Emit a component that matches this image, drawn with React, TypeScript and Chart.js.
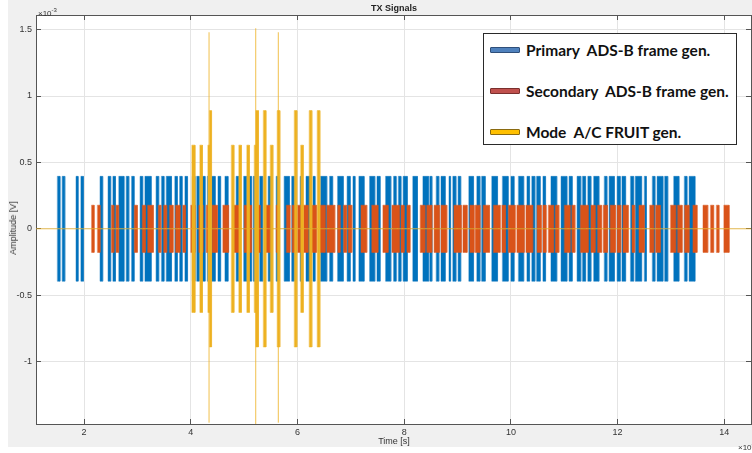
import React, { useEffect, useRef } from 'react';
import { Chart, registerables } from 'chart.js';

Chart.register(...registerables);

// Axis ranges (x in ×10^-4 s, y in ×10^-3 V)
const X_MIN = 1.1;
const X_MAX = 14.5;
const Y_MIN = -1.47;
const Y_MAX = 1.61;
const X_STEP = 2;
const Y_STEP = 0.5;

// Pulse envelopes [start, end] in ×10^-4 s
const bluePulses: number[][] = [
  [1.50, 1.55], [1.59, 1.64], [1.85, 1.89], [1.94, 1.99], [2.30, 2.35], [2.45, 2.50], [2.54, 2.59],
  [2.65, 2.75], [2.79, 2.84], [2.89, 2.94], [3.05, 3.10], [3.14, 3.26], [3.35, 3.40], [3.45, 3.50],
  [3.54, 3.64], [3.70, 3.75], [3.79, 3.84], [3.89, 3.94], [4.03, 4.08], [4.11, 4.16], [4.21, 4.27],
  [4.31, 4.35], [4.39, 4.46], [4.51, 4.56], [4.64, 4.70], [4.85, 4.90], [4.99, 5.05], [5.09, 5.14],
  [5.17, 5.20], [5.29, 5.35], [5.45, 5.50], [5.60, 5.65], [5.75, 5.85], [5.89, 5.94], [6.05, 6.09],
  [6.16, 6.25], [6.29, 6.33], [6.43, 6.55], [6.60, 6.66], [6.75, 6.86], [6.93, 6.99], [7.04, 7.08],
  [7.15, 7.25], [7.35, 7.45], [7.49, 7.55], [7.65, 7.75], [7.80, 7.85], [7.89, 7.94], [7.98, 8.06],
  [8.16, 8.25], [8.35, 8.46], [8.48, 8.52], [8.60, 8.65], [8.69, 8.77], [8.84, 8.87], [8.91, 8.97],
  [9.01, 9.06], [9.21, 9.30], [9.36, 9.42], [9.45, 9.52], [9.64, 9.75], [9.84, 9.95], [10.00, 10.06],
  [10.14, 10.24], [10.30, 10.35], [10.39, 10.45], [10.48, 10.55], [10.60, 10.65], [10.75, 10.86],
  [10.94, 11.05], [11.09, 11.15], [11.24, 11.31], [11.34, 11.40], [11.44, 11.50], [11.55, 11.65],
  [11.75, 11.80], [11.84, 11.94], [11.99, 12.05], [12.08, 12.15], [12.24, 12.30], [12.33, 12.45],
  [12.50, 12.54], [12.65, 12.70], [12.74, 12.85], [12.88, 12.94], [13.05, 13.15], [13.25, 13.30],
  [13.34, 13.45],
];

const orangePulses: number[][] = [
  [2.14, 2.19], [2.25, 2.30], [2.51, 2.56], [2.60, 2.65], [2.94, 3.00], [3.09, 3.15], [3.19, 3.30],
  [3.39, 3.44], [3.49, 3.55], [3.60, 3.67], [3.71, 3.80], [3.85, 3.90], [4.00, 4.08], [4.15, 4.23],
  [4.29, 4.37], [4.40, 4.50], [4.60, 4.71], [4.80, 4.92], [5.00, 5.14], [5.22, 5.30], [5.41, 5.49],
  [5.60, 5.65], [5.79, 5.86], [5.90, 5.98], [6.00, 6.06], [6.11, 6.20], [6.27, 6.36], [6.42, 6.52],
  [6.55, 6.70], [6.75, 6.80], [6.86, 6.92], [6.95, 7.02], [7.19, 7.30], [7.39, 7.51], [7.60, 7.70],
  [7.77, 7.91], [7.94, 8.00], [8.05, 8.11], [8.30, 8.39], [8.42, 8.52], [8.56, 8.66], [8.69, 8.80],
  [8.93, 9.07], [9.10, 9.18], [9.23, 9.31], [9.33, 9.42], [9.48, 9.60], [9.67, 9.80], [9.83, 9.90],
  [9.95, 10.08], [10.11, 10.25], [10.28, 10.41], [10.49, 10.57], [10.60, 10.66], [10.70, 10.80],
  [10.83, 10.90], [11.00, 11.11], [11.14, 11.20], [11.30, 11.45], [11.50, 11.58], [11.62, 11.70],
  [11.73, 11.81], [11.86, 11.96], [11.99, 12.06], [12.10, 12.20], [12.27, 12.32], [12.40, 12.50],
  [12.60, 12.68], [12.71, 12.80], [12.99, 13.09], [13.12, 13.21], [13.25, 13.34], [13.41, 13.49],
  [13.60, 13.69], [13.74, 13.80], [13.85, 13.90], [13.99, 14.09],
];

const yellowMedPulses: number[][] = [
  [4.02, 4.08], [4.17, 4.22], [4.32, 4.36], [4.76, 4.81], [4.90, 4.95], [5.05, 5.10], [5.19, 5.25],
  [5.49, 5.54], [6.06, 6.11],
];
const yellowTallPulses: number[][] = [
  [4.35, 4.39], [5.22, 5.27], [5.36, 5.41], [5.62, 5.67], [5.94, 5.99], [6.22, 6.27], [6.37, 6.42],
];
const yellowSpikeTimes = [4.343, 5.218, 5.641];
const yellowSpikeTop = [1.48, 1.51, 1.48];
const yellowSpikeBottom = [-1.46, -1.48, -1.46];

// Pulse amplitudes (×10^-3 V)
const BLUE_AMP = 0.395;
const ORANGE_AMP = 0.178;
const YELLOW_MED_AMP = 0.63;
const YELLOW_TALL_AMP = 0.89;

const BLUE = '#0072BD';
const ORANGE = '#D95319';
const YELLOW = '#EDB120';

const legendItems = [
  { label: 'Primary  ADS-B frame gen.', fill: '#4f81bd', stroke: '#2f4f7a' },
  { label: 'Secondary  ADS-B frame gen.', fill: '#c0504d', stroke: '#7a2f2d' },
  { label: 'Mode  A/C FRUIT gen.', fill: '#ffc000', stroke: '#8a6a10' },
];

function trace(pulses: number[][], amp: number) {
  const pts: any[] = [];
  for (const [s, e] of pulses) {
    pts.push({ x: s, y: amp }, { x: e, y: amp }, { x: e, y: null });
  }
  return pts;
}

function outline(pulses: number[][], amp: number) {
  const pts: any[] = [];
  for (const [s, e] of pulses) {
    pts.push({ x: s, y: -amp }, { x: s, y: amp }, { x: e, y: amp }, { x: e, y: -amp }, { x: s, y: -amp }, { x: e, y: null });
  }
  return pts;
}

function spikeTrace() {
  const pts: any[] = [];
  yellowSpikeTimes.forEach((t, i) => {
    pts.push({ x: t, y: yellowSpikeBottom[i] }, { x: t, y: yellowSpikeTop[i] }, { x: t, y: null });
  });
  return pts;
}

function fillDs(pulses: number[][], amp: number, color: string, order: number) {
  return {
    type: 'line',
    data: trace(pulses, amp),
    borderWidth: 0,
    borderColor: 'rgba(0,0,0,0)',
    backgroundColor: color,
    fill: 'origin',
    pointRadius: 0,
    spanGaps: false,
    tension: 0,
    order,
  };
}

function edgeDs(pulses: number[][], amp: number, color: string, order: number) {
  return {
    type: 'line',
    data: outline(pulses, amp),
    borderWidth: 1,
    borderColor: color,
    fill: false,
    pointRadius: 0,
    spanGaps: false,
    tension: 0,
    order,
  };
}

const FONT = '"Liberation Sans", Arial, sans-serif';

export default function App() {
  const ref = useRef<HTMLCanvasElement>(null);

  useEffect(() => {
    const canvas = ref.current!;
    const datasets: any[] = [
      edgeDs(bluePulses, BLUE_AMP, 'rgba(0,114,189,0.45)', 6),
      fillDs(bluePulses, BLUE_AMP, BLUE, 5),
      fillDs(bluePulses, -BLUE_AMP, BLUE, 5),
      edgeDs(orangePulses, ORANGE_AMP, 'rgba(217,83,25,0.45)', 4.5),
      fillDs(orangePulses, ORANGE_AMP, ORANGE, 4),
      fillDs(orangePulses, -ORANGE_AMP, ORANGE, 4),
      {
        type: 'line',
        data: [{ x: X_MIN, y: 0 }, { x: X_MAX, y: 0 }],
        borderWidth: 1,
        borderColor: 'rgba(237,177,32,0.75)',
        pointRadius: 0,
        fill: false,
        order: 3,
      },
      edgeDs(yellowMedPulses, YELLOW_MED_AMP, 'rgba(237,177,32,0.5)', 2.5),
      fillDs(yellowMedPulses, YELLOW_MED_AMP, YELLOW, 2),
      fillDs(yellowMedPulses, -YELLOW_MED_AMP, YELLOW, 2),
      edgeDs(yellowTallPulses, YELLOW_TALL_AMP, 'rgba(237,177,32,0.5)', 1.5),
      fillDs(yellowTallPulses, YELLOW_TALL_AMP, YELLOW, 1),
      fillDs(yellowTallPulses, -YELLOW_TALL_AMP, YELLOW, 1),
      {
        type: 'line',
        data: spikeTrace(),
        borderWidth: 1,
        borderColor: 'rgba(237,177,32,0.8)',
        pointRadius: 0,
        fill: false,
        spanGaps: false,
        order: 0,
      },
    ];

    const tickFont = { family: FONT, size: 9 };
    const gridColor = '#e4e4e4';
    const tickColor = '#555';
    const borderCfg = { display: true, color: '#555', width: 1 };

    const chart = new Chart(canvas, {
      type: 'line',
      data: { datasets },
      options: {
        animation: false,
        responsive: false,
        maintainAspectRatio: false,
        events: [],
        layout: { padding: { top: 15, right: 1, left: 0, bottom: 0 } },
        plugins: { legend: { display: false }, tooltip: { enabled: false }, title: { display: false } },
        scales: {
          x: {
            type: 'linear',
            position: 'bottom',
            min: X_MIN,
            max: X_MAX,
            afterFit: (s: any) => { s.height = 29; },
            grid: { color: gridColor, tickLength: -5, tickColor, drawTicks: true },
            border: borderCfg,
            ticks: {
              stepSize: X_STEP,
              includeBounds: false,
              font: tickFont,
              color: '#333',
              padding: 8,
              maxRotation: 0,
              callback: (v: any) => String(v),
            },
          },
          x2: {
            type: 'linear',
            position: 'top',
            min: X_MIN,
            max: X_MAX,
            afterFit: (s: any) => { s.height = 0; },
            grid: { drawOnChartArea: false, tickLength: -5, tickColor },
            border: borderCfg,
            ticks: { stepSize: X_STEP, includeBounds: false, display: false },
          },
          y: {
            type: 'linear',
            position: 'left',
            min: Y_MIN,
            max: Y_MAX,
            afterFit: (s: any) => { s.width = 36; },
            grid: { color: gridColor, tickLength: -5, tickColor },
            border: borderCfg,
            ticks: {
              stepSize: Y_STEP,
              includeBounds: false,
              font: tickFont,
              color: '#333',
              padding: 9,
              callback: (v: any) => String(Math.round(v * 10) / 10),
            },
          },
          y2: {
            type: 'linear',
            position: 'right',
            min: Y_MIN,
            max: Y_MAX,
            afterFit: (s: any) => { s.width = 0; },
            grid: { drawOnChartArea: false, tickLength: -5, tickColor },
            border: borderCfg,
            ticks: { stepSize: Y_STEP, includeBounds: false, display: false },
          },
        },
      } as any,
    });
    return () => chart.destroy();
  }, []);

  const txt: React.CSSProperties = {
    position: 'absolute',
    fontFamily: FONT,
    fontSize: 9,
    color: '#333',
    whiteSpace: 'nowrap',
    lineHeight: '10px',
  };

  return (
    <div style={{ position: 'fixed', left: 0, top: 0, width: 752, height: 453, background: '#fff', overflow: 'hidden' }}>
      <div style={{ position: 'absolute', left: 8, top: 0, width: 744, height: 447, background: '#f0f0f0' }} />
      <div style={{ position: 'absolute', left: 36, top: 15, width: 715, height: 409, background: '#fff' }} />
      <canvas ref={ref} width={752} height={453} style={{ position: 'absolute', left: 0, top: 0 }} />
      <div style={{ ...txt, left: 394, top: 3, transform: 'translateX(-50%)', fontWeight: 'bold', color: '#222' }}>TX Signals</div>
      <div style={{ ...txt, left: 38, top: 5, fontSize: 8 }}>
        ×10<sup style={{ fontSize: 6, verticalAlign: 4 }}>-3</sup>
      </div>
      <div style={{ ...txt, left: 13, top: 228, transform: 'translate(-50%,-50%) rotate(-90deg)' }}>Amplitude [V]</div>
      <div style={{ ...txt, left: 394, top: 436, transform: 'translateX(-50%)' }}>Time [s]</div>
      <div style={{ ...txt, left: 738, top: 439, fontSize: 8 }}>
        ×10<sup style={{ fontSize: 6, verticalAlign: 4 }}>-4</sup>
      </div>
      <div style={{ position: 'absolute', left: 483, top: 33, width: 252, height: 110, border: '1px solid #2a2a2a', background: '#fff' }}>
        {legendItems.map((it, i) => (
          <div key={i} style={{ position: 'absolute', left: 6, top: 6 + i * 41, height: 20, display: 'flex', alignItems: 'center' }}>
            <div style={{ width: 30, height: 6, background: it.fill, border: `1px solid ${it.stroke}`, boxSizing: 'border-box', borderRadius: 1 }} />
            <span style={{ marginLeft: 6, fontFamily: 'Lato, "Open Sans", sans-serif', fontWeight: 700, fontSize: 15.5, color: '#111', whiteSpace: 'pre' }}>{it.label}</span>
          </div>
        ))}
      </div>
    </div>
  );
}
